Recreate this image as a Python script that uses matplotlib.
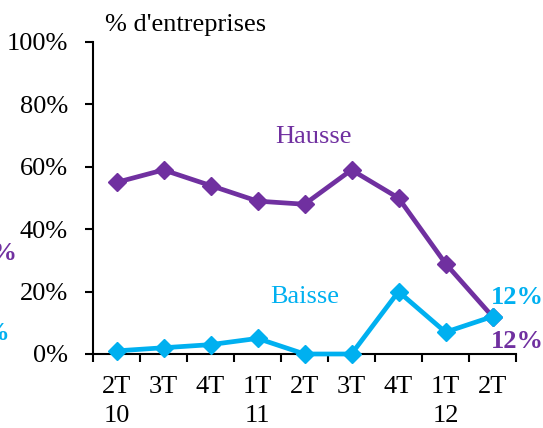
import matplotlib
matplotlib.use("Agg")
import matplotlib.pyplot as plt

categories = ["2T\n10", "3T\n", "4T\n", "1T\n11", "2T\n", "3T\n", "4T\n", "1T\n12", "2T\n"]
hausse = [55, 59, 54, 49, 48, 59, 50, 29, 12]
baisse = [1, 2, 3, 5, 0, 0, 20, 7, 12]
yticks = [0, 20, 40, 60, 80, 100]

purple = "#7030A0"
cyan = "#00B0F0"

plt.rcParams['font.family'] = ['Liberation Serif', 'DejaVu Serif']
FS = 19

W, H = 543, 428
fig = plt.figure(figsize=(W/100, H/100), dpi=100)
ax = fig.add_axes([93/W, 1-354/H, (516-93)/W, (354-42)/H])

x = list(range(len(categories)))
ax.plot(x, hausse, color=purple, lw=3.4, marker='D', ms=9, clip_on=False, zorder=3)
ax.plot(x, baisse, color=cyan, lw=3.4, marker='D', ms=9, clip_on=False, zorder=3)

ax.set_xlim(-0.5, len(categories)-0.5)
ax.set_ylim(0, 100)
ax.set_yticks(yticks)
ax.set_yticklabels([f"{v}%" for v in yticks], fontsize=FS)
ax.set_xticks(x)
ax.set_xticklabels(categories, fontsize=FS, linespacing=1.4)
ax.set_xticks([i-0.5 for i in range(len(categories)+1)], minor=True)
ax.tick_params(axis='x', which='major', length=0, pad=16)
ax.tick_params(axis='x', which='minor', length=6, width=1.5, direction='out')
ax.tick_params(axis='y', length=6, width=1.5, direction='out', pad=12)
for s in ['top', 'right']:
    ax.spines[s].set_visible(False)
for s in ['left', 'bottom']:
    ax.spines[s].set_linewidth(1.5)

fig.text(105/W, 1-25/H, "% d'entreprises", fontsize=FS, va='center', ha='left')
fig.text(313/W, 1-137/H, "Hausse", color=purple, fontsize=FS, ha='center', va='center')
fig.text(305/W, 1-297/H, "Baisse", color=cyan, fontsize=FS, ha='center', va='center')
fig.text(517/W, 1-342/H, f"{hausse[-1]}%", color=purple, fontsize=FS, fontweight='bold', ha='center', va='center')
fig.text(517/W, 1-297/H, f"{baisse[-1]}%", color=cyan, fontsize=FS, fontweight='bold', ha='center', va='center')
fig.text(18/W, 1-253/H, f"{hausse[0]}%", color=purple, fontsize=FS, fontweight='bold', ha='right', va='center')
fig.text(11/W, 1-333/H, f"{baisse[0]}%", color=cyan, fontsize=FS, fontweight='bold', ha='right', va='center')

fig.savefig("out.png", dpi=100)
